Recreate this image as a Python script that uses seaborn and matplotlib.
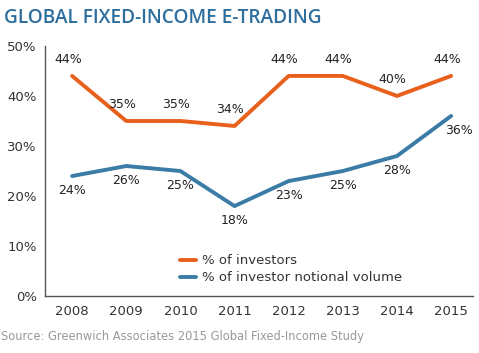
import matplotlib.pyplot as plt
import seaborn as sns
import pandas as pd

sns.set_style("white")
plt.rcParams['font.family'] = ['DejaVu Sans']

years = ['2008', '2009', '2010', '2011', '2012', '2013', '2014', '2015']
investors = [44, 35, 35, 34, 44, 44, 40, 44]
volume = [24, 26, 25, 18, 23, 25, 28, 36]

df = pd.DataFrame({'Year': years * 2,
                   'Value': investors + volume,
                   'Series': ['% of investors'] * 8 + ['% of investor notional volume'] * 8})

orange = '#E8601C'
blue = '#3A7CA5'

fig = plt.figure(figsize=(4.79, 3.53), dpi=100)
ax = fig.add_axes([0.094, 0.161, 0.893, 0.709])
sns.lineplot(data=df, x='Year', y='Value', hue='Series', sort=False,
             palette=[orange, blue], linewidth=2.8, ax=ax)

for i, v in enumerate(investors):
    ax.annotate(f'{v}%', (i, v), xytext=(-3, 7), textcoords='offset points',
                ha='center', va='bottom', fontsize=9, color='#222222')
for i, v in enumerate(volume):
    dx = 6 if i == 7 else 0
    ax.annotate(f'{v}%', (i, v), xytext=(dx, -6), textcoords='offset points',
                ha='center', va='top', fontsize=9, color='#222222')

ax.set_xlim(-0.5, 7.4)
ax.set_ylim(0, 50)
ax.set_yticks(range(0, 51, 10))
ax.set_yticklabels([f'{t}%' for t in range(0, 51, 10)])
ax.set_xlabel('')
ax.set_ylabel('')
ax.tick_params(labelsize=9.5, colors='#333333', length=0, pad=6)
for s in ['top', 'right']:
    ax.spines[s].set_visible(False)
for s in ['left', 'bottom']:
    ax.spines[s].set_color('#555555')
    ax.spines[s].set_linewidth(1)

leg = ax.legend(loc='lower center', bbox_to_anchor=(0.575, 0.0), frameon=False,
                fontsize=9.5, handlelength=1.2, handletextpad=0.5, labelspacing=0.3)
for t in leg.get_texts():
    t.set_color('#333333')

fig.text(0.008, 0.948, 'GLOBAL FIXED-INCOME E-TRADING', fontsize=13.8,
         family=['Open Sans', 'DejaVu Sans'], fontweight='semibold',
         color='#2E6F9E', ha='left', va='center')
fig.text(0.002, 0.048, 'Source: Greenwich Associates 2015 Global Fixed-Income Study',
         fontsize=8.3, color='#999999', ha='left', va='center')

fig.savefig('out.png', dpi=100)
